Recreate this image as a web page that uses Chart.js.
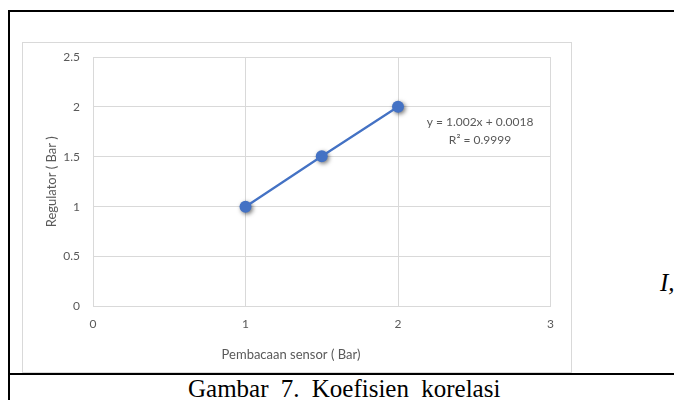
<!DOCTYPE html>
<html>
<head>
<meta charset="utf-8">
<script src="https://cdn.jsdelivr.net/npm/chart.js@4/dist/chart.umd.min.js"></script>
<style>
  html, body { margin: 0; padding: 0; background: #fff; }
  body { width: 674px; height: 400px; position: relative; overflow: hidden; }
  .rule { position: absolute; background: #000; }
  #frame { position: absolute; left: 22px; top: 42px; width: 550px; height: 331px;
           box-sizing: border-box; border: 1px solid #d9d9d9; }
  #wrap { position: absolute; left: 22px; top: 42px; width: 549px; height: 330px; }
  .serif { position: absolute; font-family: "Liberation Serif", "Times New Roman", serif;
           font-size: 25px; line-height: 24px; color: #000; white-space: nowrap; }
</style>
</head>
<body>
<div class="rule" style="left:8px;top:10px;width:666px;height:2px"></div>
<div class="rule" style="left:8px;top:10px;width:2px;height:390px"></div>
<div id="frame"></div>
<div id="wrap"><canvas id="c" width="549" height="330"></canvas></div>
<div class="rule" style="left:8px;top:373px;width:666px;height:2px"></div>
<div class="serif" style="left:660px;top:271px;font-style:italic">I,</div>
<div class="serif" style="left:188px;top:377px;word-spacing:6px">Gambar 7. Koefisien korelasi</div>
<script>
// Sensor reading vs regulator pressure (Bar)
const sensorReading = [1, 1.5, 2];
const regulatorValue = [1, 1.505, 2.002];
const xTickLabels = ['0', '1', '2', '3'];
const yTickLabels = ['0', '0.5', '1', '1.5', '2', '2.5'];
const xTitle = 'Pembacaan sensor ( Bar)';
const yTitle = 'Regulator ( Bar )';
const trendLines = ['y = 1.002x + 0.0018', 'R² = 0.9999'];

const points = sensorReading.map((x, i) => ({ x, y: regulatorValue[i] }));
const blue = '#4472C4';
const grey = '#595959';
const gridGrey = '#d9d9d9';
const family = 'Lato, "Open Sans", sans-serif';
const tickFont = { family, size: 12 };
const titleFont = { family, size: 13 };

// shadow under the markers only
const markerShadow = {
  id: 'markerShadow',
  beforeDatasetDraw(chart, args) {
    if (args.index !== 1) return;
    const ctx = chart.ctx;
    ctx.save();
    ctx.shadowColor = 'rgba(0,0,0,0.55)';
    ctx.shadowBlur = 4;
    ctx.shadowOffsetX = 1.5;
    ctx.shadowOffsetY = 1.5;
  },
  afterDatasetDraw(chart, args) {
    if (args.index !== 1) return;
    chart.ctx.restore();
  }
};

// x-axis title and trendline label
const annotations = {
  id: 'annotations',
  afterDraw(chart) {
    const ctx = chart.ctx;
    const xs = chart.scales.x, ys = chart.scales.y;
    ctx.save();
    ctx.fillStyle = grey;
    ctx.textAlign = 'center';
    ctx.textBaseline = 'middle';
    ctx.font = `${titleFont.size}px ${family}`;
    ctx.fillText(xTitle, 269, 313);
    ctx.font = `${tickFont.size}px ${family}`;
    const lx = xs.getPixelForValue(2) + 82;
    const ly = ys.getPixelForValue(2) + 15;
    trendLines.forEach((t, i) => ctx.fillText(t, lx, ly + i * 18));
    ctx.restore();
  }
};

new Chart(document.getElementById('c'), {
  type: 'scatter',
  data: {
    datasets: [
      { data: points, showLine: true, borderColor: blue, borderWidth: 2.25,
        pointRadius: 0, pointHoverRadius: 0, fill: false },
      { data: points, showLine: false, backgroundColor: blue, borderColor: blue,
        borderWidth: 0, pointRadius: 6, pointHoverRadius: 6 }
    ]
  },
  options: {
    responsive: false,
    animation: false,
    events: [],
    layout: { padding: { top: 15, right: 20.5, bottom: 0, left: 0 } },
    plugins: { legend: { display: false }, tooltip: { enabled: false } },
    scales: {
      x: {
        type: 'linear', min: 0, max: 3,
        afterFit(s) { s.height = 65.5; },
        grid: { color: gridGrey, lineWidth: 1, drawTicks: false },
        border: { color: gridGrey, width: 1 },
        ticks: { stepSize: 1, padding: 10, color: grey, font: tickFont,
                 callback: (v, i) => xTickLabels[i] }
      },
      y: {
        type: 'linear', min: 0, max: 2.5,
        afterFit(s) { s.width = 71; s.paddingTop = 0; s.paddingBottom = 0; },
        grid: { color: gridGrey, lineWidth: 1, drawTicks: false },
        border: { color: gridGrey, width: 1 },
        ticks: { stepSize: 0.5, padding: 13, color: grey, font: tickFont,
                 callback: (v, i) => yTickLabels[i] },
        title: { display: true, text: yTitle, color: grey, font: titleFont,
                 padding: { top: 22, bottom: 0 } }
      }
    }
  },
  plugins: [markerShadow, annotations]
});
</script>
</body>
</html>
